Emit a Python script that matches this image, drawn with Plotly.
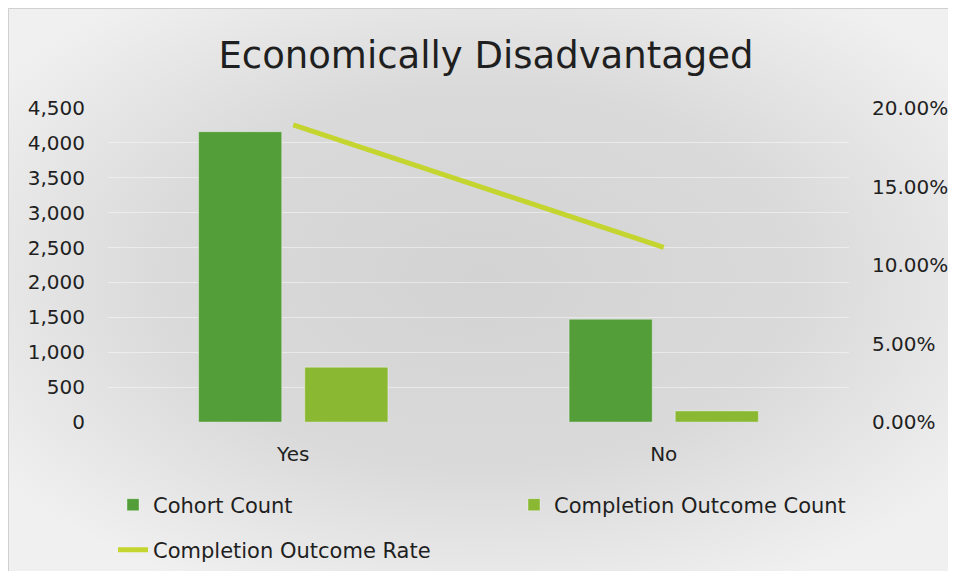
import base64
import plotly.graph_objects as go

# ---- data ----
categories = ["Yes", "No"]
cohort_count = [4160, 1472]
completion_count = [785, 158]
completion_rate = [0.1892, 0.1113]
left_ticks = [0, 500, 1000, 1500, 2000, 2500, 3000, 3500, 4000, 4500]
right_ticks = [0, 0.05, 0.10, 0.15, 0.20]

# page body has an 8px margin, so the figure is sized to fit inside the window without scrolling
W, H = 948, 563
ML, MR, MT, MB = 100, 107, 100, 149
PW, PH = W - ML - MR, H - MT - MB

def px_x(p):
    return (p - ML) / PW

def px_y(p):
    return (H - MB - p) / PH

FONT = "DejaVu Sans, sans-serif"
TXT = "#1f1f1f"

svg = f'''<svg xmlns="http://www.w3.org/2000/svg" width="{W}" height="{H}" viewBox="0 0 {W} {H}" preserveAspectRatio="none">
<defs><radialGradient id="g" cx="50%" cy="48%" r="62%" fx="50%" fy="48%">
<stop offset="0" stop-color="#d3d3d3"/><stop offset="0.55" stop-color="#dadada"/><stop offset="1" stop-color="#f0f0f0"/>
</radialGradient></defs>
<rect x="0" y="0" width="{W}" height="{H}" fill="url(#g)"/></svg>'''
src = "data:image/svg+xml;base64," + base64.b64encode(svg.encode()).decode()

fig = go.Figure()
fig.add_trace(go.Bar(x=categories, y=cohort_count, name="Cohort Count",
                     marker=dict(color="#549E39", line=dict(color="rgba(255,255,255,0.35)", width=1)),
                     legend="legend"))
fig.add_trace(go.Bar(x=categories, y=completion_count, name="Completion Outcome Count",
                     marker=dict(color="#8AB833", line=dict(color="rgba(255,255,255,0.35)", width=1)),
                     legend="legend2"))
fig.add_trace(go.Scatter(x=categories, y=completion_rate, name="Completion Outcome Rate",
                         mode="lines", yaxis="y2", line=dict(color="#C4D52F", width=5),
                         legend="legend3"))

leg_common = dict(orientation="h", xref="container", yref="container", xanchor="left",
                  yanchor="middle", bgcolor="rgba(0,0,0,0)",
                  font=dict(size=21, family=FONT, color=TXT))

fig.update_layout(
    width=W, height=H,
    margin=dict(l=ML, r=MR, t=MT, b=MB, pad=0, autoexpand=False),
    paper_bgcolor="white",
    plot_bgcolor="rgba(0,0,0,0)",
    font=dict(family=FONT, color=TXT, size=20),
    title=dict(text="Economically Disadvantaged", x=478 / W, xref="container", xanchor="center",
               y=1 - 47 / H, yanchor="middle", yref="container",
               font=dict(size=37, color=TXT, family=FONT)),
    barmode="group", bargap=0.427, bargroupgap=0.217,
    xaxis=dict(showgrid=False, showline=False, zeroline=False, ticks="",
               tickfont=dict(size=20), ticklabelstandoff=18, range=[-0.5, 1.5]),
    yaxis=dict(range=[0, 4500], tickvals=left_ticks, tickformat=",d",
               showgrid=True, gridcolor="rgba(255,255,255,0.45)", gridwidth=1,
               zeroline=False, showline=False, ticks="", ticklabelstandoff=22,
               tickfont=dict(size=20)),
    yaxis2=dict(range=[0, 0.2], tickvals=right_ticks, tickformat=".2%",
                overlaying="y", side="right", showgrid=False, zeroline=False,
                showline=False, ticks="", ticklabelstandoff=22, tickfont=dict(size=20)),
    legend=dict(leg_common, x=105 / W, y=1 - 497 / H),
    legend2=dict(leg_common, x=506 / W, y=1 - 497 / H),
    legend3=dict(leg_common, x=105 / W, y=1 - 542 / H),
    images=[dict(source=src, xref="paper", yref="paper",
                 x=px_x(0), y=px_y(0), sizex=W / PW, sizey=H / PH,
                 xanchor="left", yanchor="top", sizing="stretch", layer="below")],
    shapes=[dict(type="path", xref="paper", yref="paper",
                 path=f"M {px_x(0.5)},{px_y(H + 5)} L {px_x(0.5)},{px_y(0.5)} L {px_x(W + 5)},{px_y(0.5)}",
                 line=dict(color="#d0d0d0", width=1), layer="below")],
    showlegend=True,
)

fig.write_html("out.html")
